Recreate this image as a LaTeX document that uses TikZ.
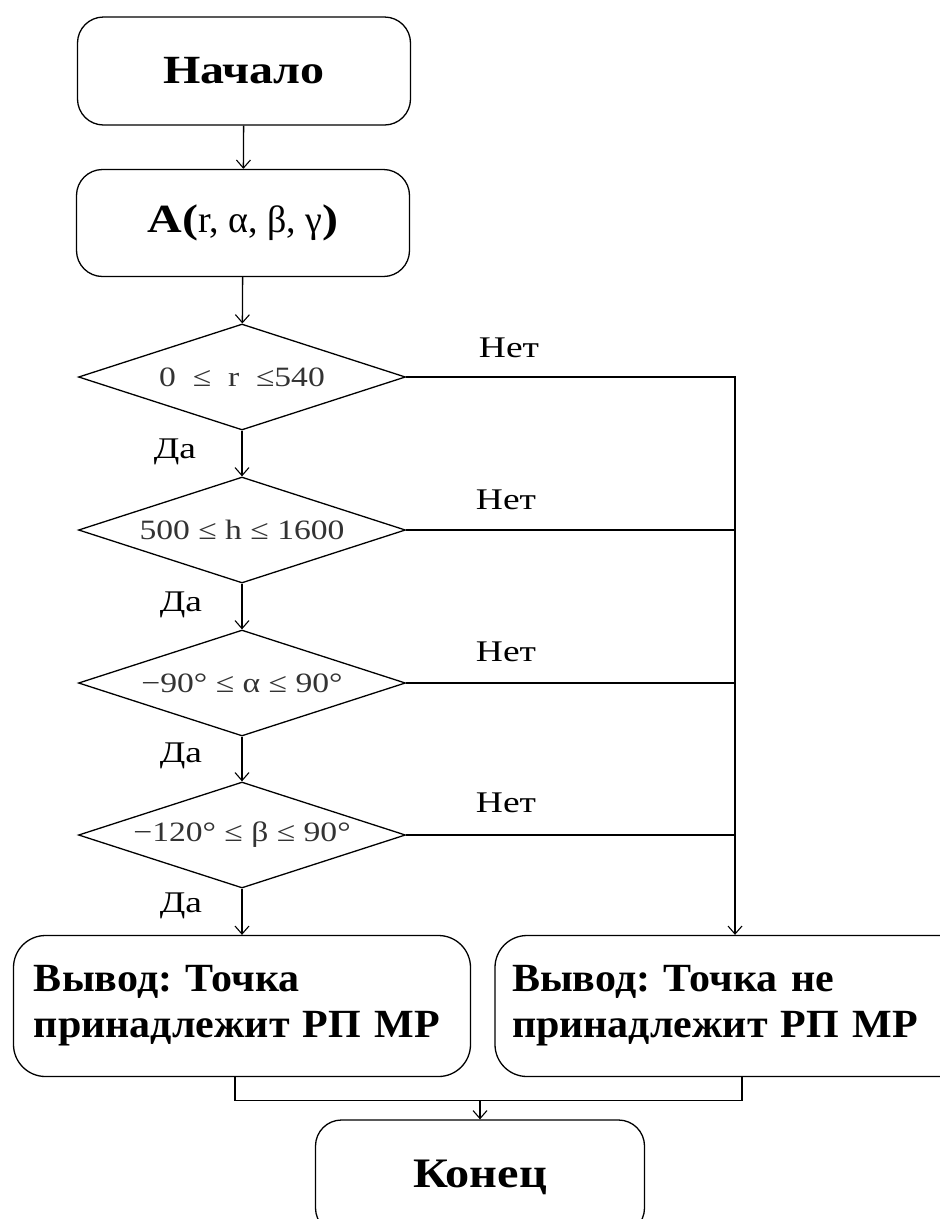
\documentclass[tikz,border=0pt]{standalone}
\usepackage{fontspec}
\setmainfont{Liberation Serif}
\newfontfamily\widefont[FakeStretch=1.2]{Liberation Serif}
\newfontfamily\lblfont[FakeStretch=1.25]{Liberation Serif}
\newfontfamily\outfont[FakeStretch=1.05]{Liberation Serif}
\newfontfamily\endfont[FakeStretch=1.15]{Liberation Serif}
\usetikzlibrary{shapes.geometric,arrows.meta}
\frenchspacing

\begin{document}
\begin{tikzpicture}[x=1pt,y=-1pt,
  box/.style={draw, line width=1.3pt, rounded corners=26pt,
    font=\widefont\fontsize{40}{48}\selectfont\bfseries},
  outbox/.style={draw, line width=1.3pt, rounded corners=32pt,
    minimum height=141pt, align=left,
    font=\outfont\fontsize{40}{46}\selectfont\bfseries},
  cond/.style={draw, diamond, aspect=3.08, line width=1.3pt, minimum width=327pt,
    minimum height=106pt, inner sep=0pt,
    font=\widefont\fontsize{28}{34}\selectfont, text=black!80},
  lbl/.style={font=\lblfont\fontsize{30}{36}\selectfont},
  link/.style={line width=1.3pt},
  arr/.style={link, -{Straight Barb[length=8pt,width=14pt,line width=1.1pt]}}
]
\useasboundingbox (0,0) rectangle (940,1219);
\clip (0,0) rectangle (940,1219);

% main column
\node[box, minimum width=333pt, minimum height=108pt] (start) at (244,71) {Начало};
\node[box, minimum width=333pt, minimum height=107pt] (inp) at (243,223)
  {A(\mdseries\rmfamily\fontsize{38}{44}\selectfont r, α, β, γ\widefont\bfseries\fontsize{40}{48}\selectfont)};
\node[cond] (d1) at (242,377)
  {0\hspace{0.6em}≤\hspace{0.6em}r\hspace{0.6em}≤540};
\node[cond] (d2) at (242,530) {500 ≤ h ≤ 1600};
\node[cond] (d3) at (242,683) {−90° ≤ α ≤ 90°};
\node[cond] (d4) at (242,835) {−120° ≤ β ≤ 90°};

% results
\node[outbox, minimum width=457pt, text width=416pt] (yes) at (242,1006)
  {Вывод: Точка\\принадлежит РП МР};
\node[outbox, minimum width=480pt, text width=446pt] (no) at (735,1006)
  {Вывод: Точка не\\принадлежит РП МР};
\node[box, minimum width=329pt, minimum height=114pt,
  font=\endfont\fontsize{42}{50}\selectfont\bfseries] (end) at (480,1177) {Конец};

% flow
\draw[arr] (start) -- (inp);
\draw[arr] (inp) -- (d1);
\draw[arr] (d1) -- (d2);
\draw[arr] (d2) -- (d3);
\draw[arr] (d3) -- (d4);
\draw[arr] (d4) -- (yes);

% "no" branches collect on the right
\draw[arr] (d1.east) -| (no.north);
\draw[link] (d2.east) -- (d2.east -| no.north);
\draw[link] (d3.east) -- (d3.east -| no.north);
\draw[link] (d4.east) -- (d4.east -| no.north);

% merge into the end
\draw[link] ([xshift=-7pt]yes.south) -- ++(0,23) coordinate (jl) -| ([xshift=7pt]no.south);
\draw[arr] (jl -| end.north) -- (end.north);

% branch labels
\node[lbl] (n1) at (509,348) {Нет};
\node[lbl] (n2) at (506,500) {Нет};
\node[lbl] (n3) at (506,652) {Нет};
\node[lbl] (n4) at (506,803) {Нет};
\node[lbl] (y1) at (175,452) {Да};
\node[lbl] (y2) at (181,605) {Да};
\node[lbl] (y3) at (181,756) {Да};
\node[lbl] (y4) at (181,906) {Да};
\end{tikzpicture}
\end{document}
